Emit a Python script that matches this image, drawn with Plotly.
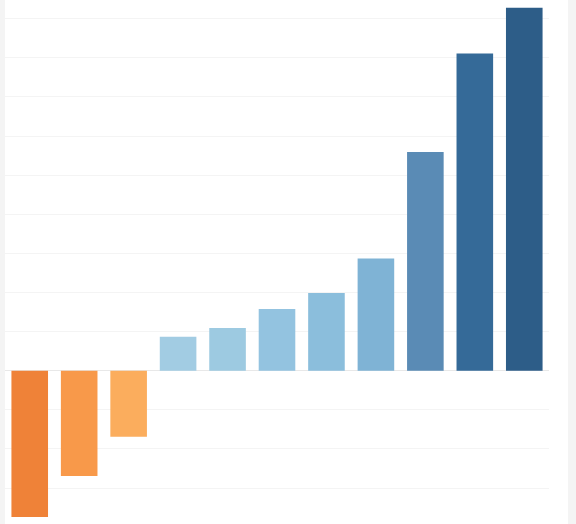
import plotly.graph_objects as go

# Bar values (one gridline = 1 unit)
categories = ['A', 'B', 'C', 'D', 'E', 'F', 'G', 'H', 'I', 'J', 'K']
values = [-3.74, -2.69, -1.69, 0.87, 1.09, 1.58, 1.99, 2.87, 5.59, 8.11, 9.28]
bar_colors = ['#EF8238', '#F8994A', '#FBAD5D', '#A2CCE3', '#9DCAE1', '#93C3E0',
              '#8BBEDC', '#7FB3D5', '#5A8BB5', '#356A98', '#2D5D88']

fig = go.Figure(go.Bar(
    x=categories,
    y=values,
    marker=dict(color=bar_colors, line=dict(width=0)),
    hoverinfo='x+y',
))

fig.update_layout(
    width=576,
    height=524,
    margin=dict(l=0, r=0, t=0, b=0),
    paper_bgcolor='white',
    plot_bgcolor='white',
    bargap=0.26,
    showlegend=False,
    xaxis=dict(domain=[5 / 576, 549 / 576], showticklabels=False, showgrid=False,
               zeroline=False, showline=False, ticks=''),
    yaxis=dict(range=[-3.92, 9.48], dtick=1, showticklabels=False, ticks='',
               showgrid=True, gridcolor='#f4f4f4', gridwidth=1,
               zeroline=True, zerolinecolor='#e8e8e8', zerolinewidth=1, showline=False),
    shapes=[
        # grey edges of the screenshot
        dict(type='rect', xref='paper', yref='paper', x0=0, x1=5 / 576, y0=0, y1=1,
             fillcolor='#f4f4f4', line=dict(width=0), layer='below'),
        dict(type='rect', xref='paper', yref='paper', x0=568 / 576, x1=1, y0=0, y1=1,
             fillcolor='#f4f4f4', line=dict(width=0), layer='below'),
    ],
)

# drop the default page margin so the figure sits at the window corner
fig.write_html("out.html", config={'displayModeBar': False},
               post_script="document.body.style.margin='0';")
